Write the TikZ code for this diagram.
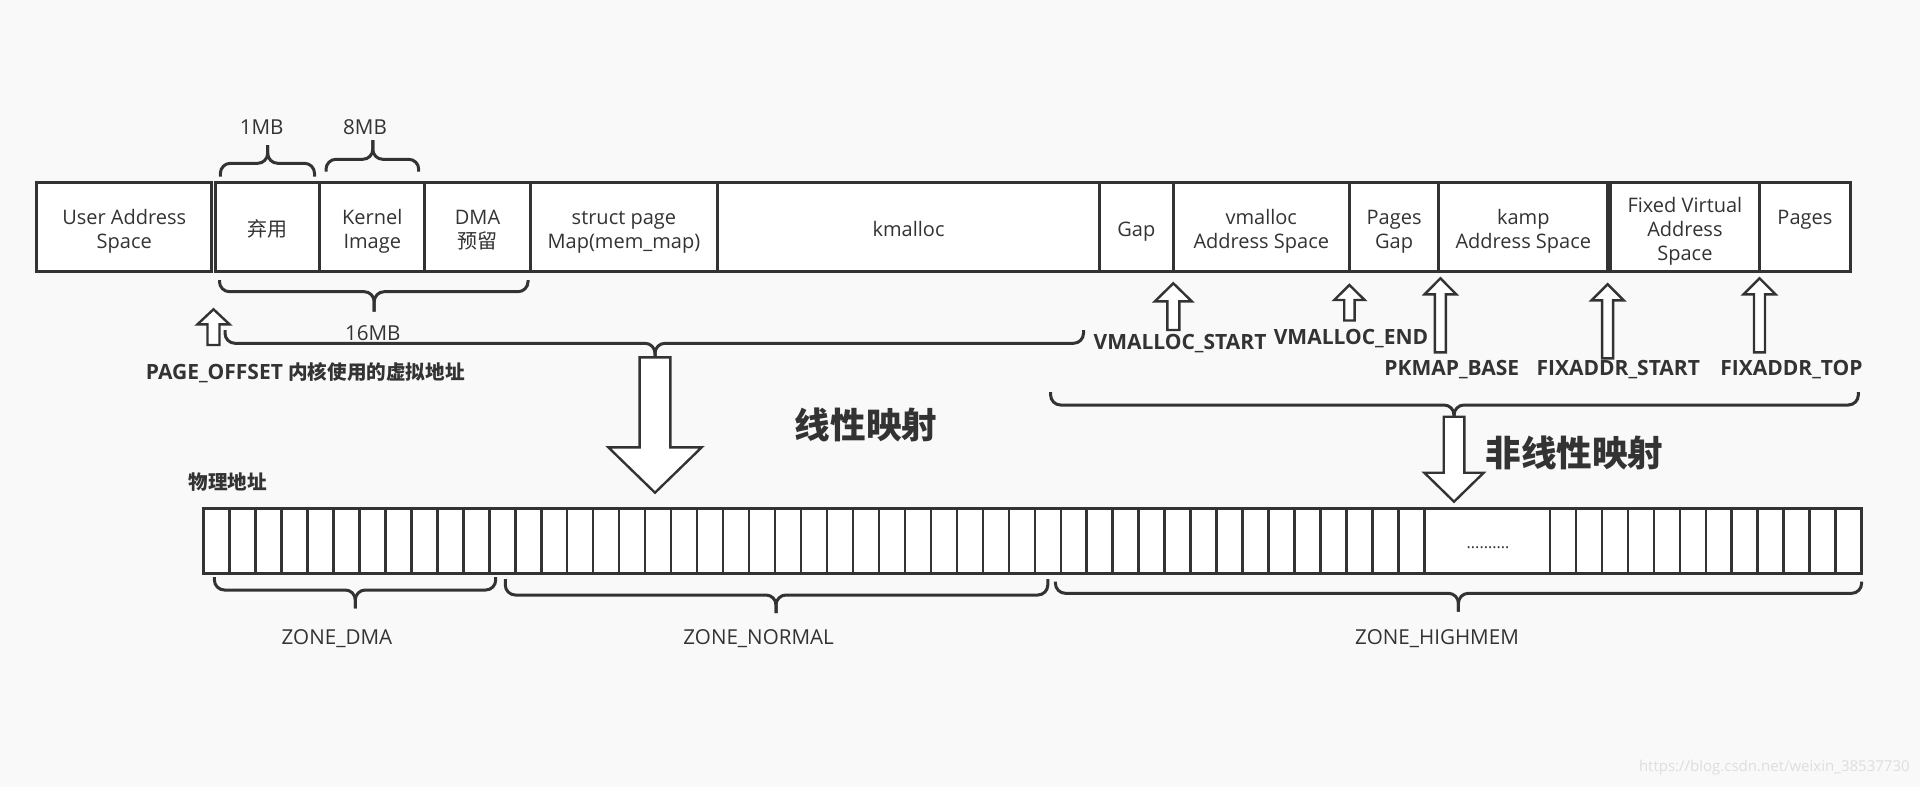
\documentclass[tikz,border=0pt]{standalone}
\usepackage{fontspec}
\setmainfont{Open Sans}
\newfontfamily\cjk{Noto Sans CJK SC}
\usetikzlibrary{positioning}

\definecolor{linegray}{RGB}{51,51,51}
\definecolor{bggray}{RGB}{249,249,249}
\definecolor{markgray}{RGB}{222,222,222}

\def\segtext#1{\raisebox{-2.5pt}[\height][\depth]{\begin{tabular}{@{}c@{}}#1\end{tabular}}}
\def\curlybr#1#2#3#4#5#6{%
  \draw[brace line] (#1,#4) |- (#3,#5) -- (#3,#6);
  \draw[brace line] (#2,#4) |- (#3,#5) -- (#3,#6);}
\def\hollowup#1#2#3#4#5#6{%
  \draw[hollow arrow] (#1,#2) -- ({#1+#4},{#2+#5}) -- ({#1+#6},{#2+#5}) -- ({#1+#6},#3)
    -- ({#1-#6},#3) -- ({#1-#6},{#2+#5}) -- ({#1-#4},{#2+#5}) -- cycle;}
\def\hollowdown#1#2#3#4#5#6{%
  \draw[hollow arrow] (#1,#3) -- ({#1+#4},{#3-#5}) -- ({#1+#6},{#3-#5}) -- ({#1+#6},#2)
    -- ({#1-#6},#2) -- ({#1-#6},{#3-#5}) -- ({#1-#4},{#3-#5}) -- cycle;}

\begin{document}
\begin{tikzpicture}[x=0.5pt, y=-0.5pt,
    seg/.style={draw=linegray, line width=1.5pt, fill=white, inner sep=0pt, outer sep=0pt,
      minimum height=44.65pt, text=linegray, font=\fontsize{10}{12}\selectfont},
    note/.style={text=linegray, align=center, inner sep=0pt, font=\fontsize{10.3}{12}\selectfont},
    marker/.style={text=linegray, inner sep=0pt, font=\bfseries\fontsize{10.5}{12}\selectfont},
    title/.style={text=linegray, inner sep=0pt, font=\cjk\bfseries\fontsize{17.8}{20}\selectfont},
    brace line/.style={draw=linegray, line width=1.5pt, rounded corners=5pt},
    hollow arrow/.style={draw=linegray, line width=1.2pt, fill=white},
    cell line/.style={draw=linegray, line width=1.2pt}]

  \fill[bggray] (0,0) rectangle (1920,787);
  \useasboundingbox (0,0) rectangle (1920,787);

  \node[seg, minimum width=87.55pt, anchor=west] (userspace) at (36.7,227) {\segtext{User Address\\Space}};
  \node[seg, minimum width=52.05pt, anchor=west] (discard) at (215.5,227) {\segtext{\cjk 弃用}};
  \node[seg, minimum width=52.65pt, right=0pt of discard] (kimage) {\segtext{Kernel\\Image}};
  \node[seg, minimum width=52.65pt, right=0pt of kimage] (dmaresv) {\segtext{DMA\\{\cjk 预留}}};
  \node[seg, minimum width=93.7pt, right=0pt of dmaresv] (memmap) {\segtext{struct page\\Map(mem\_map)}};
  \node[seg, minimum width=191pt, right=0pt of memmap] (kmalloc) {\segtext{kmalloc}};
  \node[seg, minimum width=36.75pt, right=0pt of kmalloc] (gap) {\segtext{Gap}};
  \node[seg, minimum width=88.15pt, right=0pt of gap] (vmalloc) {\segtext{vmalloc\\Address Space}};
  \node[seg, minimum width=44.7pt, right=0pt of vmalloc] (pagesgap) {\segtext{Pages\\Gap}};
  \node[seg, minimum width=84.5pt, right=0pt of pagesgap] (kamp) {\segtext{kamp\\Address Space}};
  \node[seg, minimum width=74.7pt, anchor=west] (fixed) at (1610.2,227) {\segtext{Fixed Virtual\\Address\\Space}};
  \node[seg, minimum width=45.3pt, right=0pt of fixed] (pages) {\segtext{Pages\\\phantom{P}}};

  \curlybr{220.4}{314.5}{267.7}{176.7}{163.3}{145}
  \curlybr{326}{418.7}{372.8}{171.7}{159.3}{140}
  \curlybr{219.5}{528}{374.2}{280}{291.7}{311.7}
  \node[note] (onemb) at (261.7,126.7) {1MB};
  \node[note] (eightmb) at (365,126.7) {8MB};
  \node[note] (sixteenmb) at (372.8,333.3) {16MB};

  \curlybr{225}{1083.5}{655}{330}{343.3}{357.3}
  \curlybr{1050.6}{1858.3}{1454}{392}{405}{416.7}

  \hollowup{213.5}{309.3}{345}{16}{15}{6}
  \hollowup{1173.3}{283.3}{330}{18.4}{18}{6}
  \hollowup{1349.4}{285}{320.5}{15.2}{15}{5.2}
  \hollowup{1440.4}{278.3}{352.3}{15.8}{16}{5.5}
  \hollowup{1607.6}{284.3}{358.3}{16}{16}{5.5}
  \hollowup{1759.5}{278.3}{352.3}{16}{16}{5.5}
  \hollowdown{655}{357.3}{492.7}{46.7}{45.4}{15.4}
  \hollowdown{1454}{416.7}{501.7}{29.7}{29}{10.3}

  \node[marker] (pageoffset) at (305.3,372.7) {PAGE\_OFFSET {\cjk\fontsize{9.8}{12}\selectfont 内核使用的虚拟地址}};
  \node[marker] (vmstart) at (1180,343.3) {VMALLOC\_START};
  \node[marker] (vmend) at (1351,338.3) {VMALLOC\_END};
  \node[marker] (pkmap) at (1451.8,370) {PKMAP\_BASE};
  \node[marker] (fixstart) at (1618.3,370) {FIXADDR\_START};
  \node[marker] (fixtop) at (1791.5,370) {FIXADDR\_TOP};
  \node[title] (linear) at (866,425) {线性映射};
  \node[title] (nonlinear) at (1574.4,453.3) {非线性映射};
  \node[marker, font=\cjk\bfseries\fontsize{9.8}{12}\selectfont] (physaddr) at (227.9,481.7) {物理地址};

  \node[draw=linegray, line width=1.5pt, fill=white, minimum width=828.95pt, minimum height=32.5pt, inner sep=0pt] (physmem) at (1032.65,540.8) {};
  \foreach \i in {1,...,47} \draw[cell line] ({203.7+\i*25.97},508.3) -- ++(0,65);
  \foreach \i in {0,...,11} \draw[cell line] ({1549.8+\i*25.98},508.3) -- ++(0,65);
  \node[text=linegray, inner sep=0pt, font=\fontsize{8}{9}\selectfont] (dots) at (1488,548) {..........};

  \curlybr{214.4}{495.7}{355.3}{577}{590}{608.3}
  \curlybr{505.3}{1047.8}{776}{579}{595}{613}
  \curlybr{1055.4}{1861.6}{1458.4}{581.7}{593.3}{611.7}
  \node[note] (zonedma) at (336.9,638.3) {ZONE\_DMA};
  \node[note] (zonenormal) at (758.6,638.3) {ZONE\_NORMAL};
  \node[note] (zonehigh) at (1437,638.3) {ZONE\_HIGHMEM};

  \node[anchor=east, text=markgray, inner sep=0pt, font=\fontsize{7.5}{9}\selectfont] (watermark) at (1910,768) {https://blog.csdn.net/weixin\_38537730};
\end{tikzpicture}
\end{document}
